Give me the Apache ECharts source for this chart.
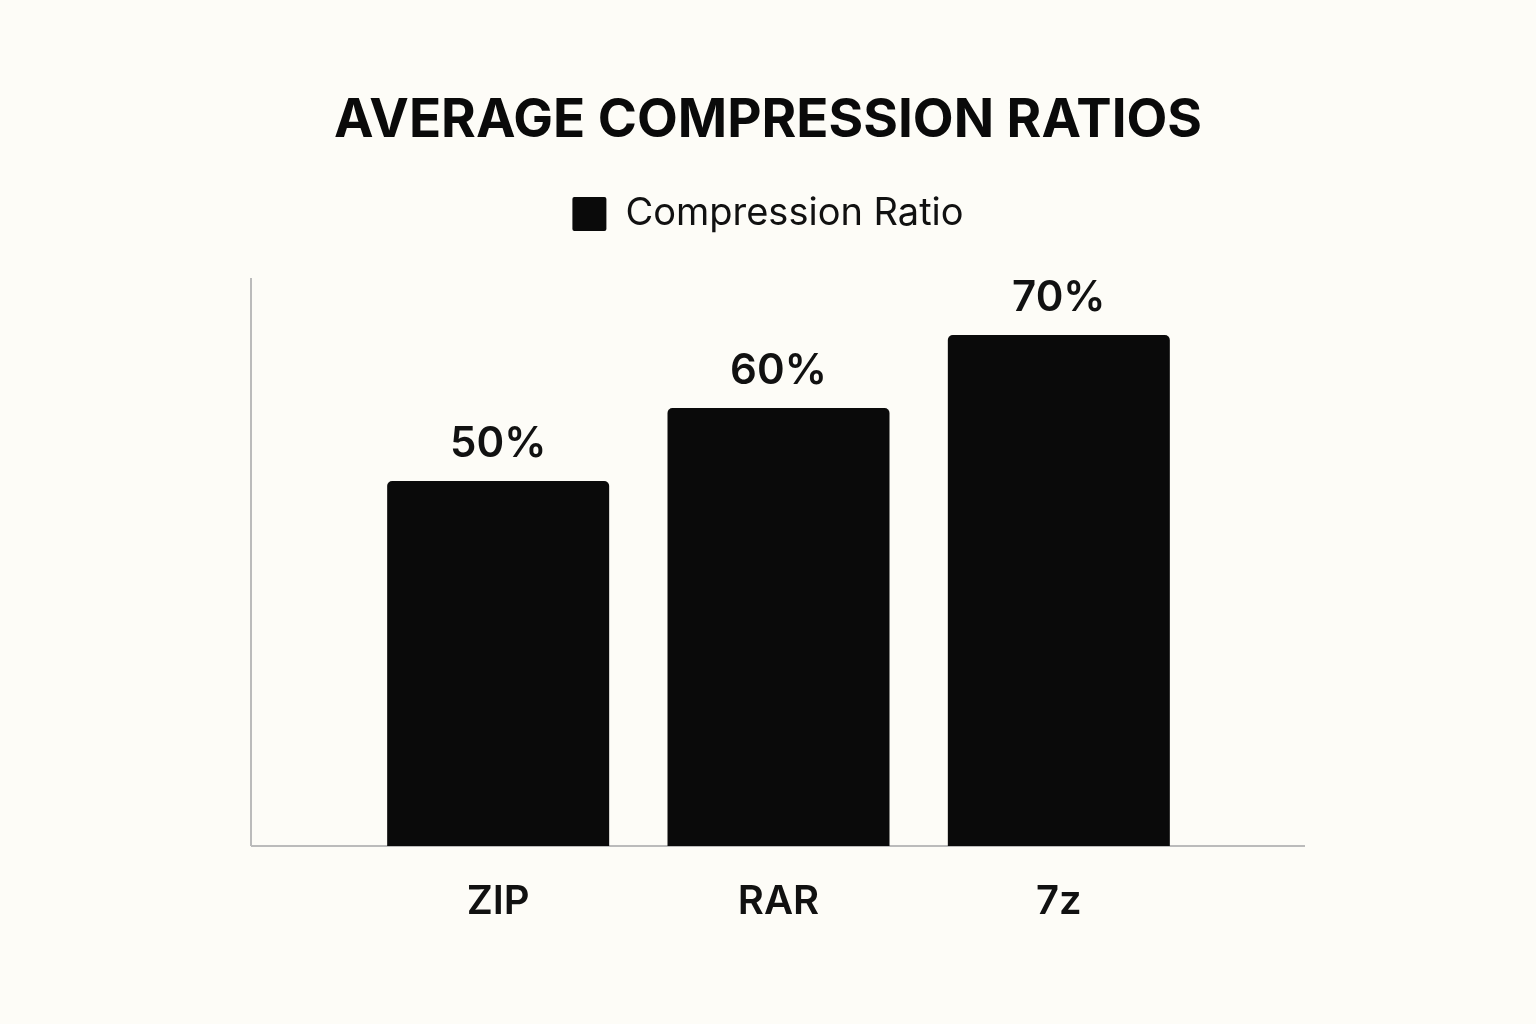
<!DOCTYPE html>
<html>
<head>
<meta charset="utf-8">
<script src="https://cdn.jsdelivr.net/npm/echarts@6/dist/echarts.min.js"></script>
<style>
  html, body { margin: 0; padding: 0; background: #fdfcf7; }
  #chart { width: 1536px; height: 1024px; }
</style>
</head>
<body>
<div id="chart"></div>
<script>
const categories = ['ZIP', 'RAR', '7z'];
const ratios = [50, 60, 70];
const seriesName = 'Compression Ratio';

const chart = echarts.init(document.getElementById('chart'));
chart.setOption({
  backgroundColor: '#fdfcf7',
  textStyle: { fontFamily: 'Inter, "Noto Sans", sans-serif' },
  title: {
    text: 'AVERAGE COMPRESSION RATIOS',
    left: 'center', top: 90,
    textStyle: { fontSize: 53, fontWeight: 'bold', color: '#0a0a0a' }
  },
  legend: {
    data: [seriesName],
    top: 190, left: 'center',
    itemWidth: 34, itemHeight: 34,
    icon: 'path://M2,0 H32 Q34,0 34,2 V32 Q34,34 32,34 H2 Q0,34 0,32 V2 Q0,0 2,0 Z',
    textStyle: { fontSize: 38, color: '#111', padding: [0, 0, 0, 14] }
  },
  grid: { left: 358, width: 841, top: 116, bottom: 1024 - 846 },
  xAxis: {
    type: 'category',
    data: categories,
    axisLine: { show: false },
    axisTick: { show: false },
    axisLabel: { margin: 36, fontSize: 40, fontWeight: 600, color: '#111' }
  },
  yAxis: {
    type: 'value', min: 0, max: 100,
    show: false, splitLine: { show: false }
  },
  series: [{
    name: seriesName,
    type: 'bar',
    data: ratios,
    barWidth: 222,
    itemStyle: { color: '#0a0a0a', borderRadius: [5, 5, 0, 0] },
    label: {
      show: true, position: 'top', distance: 16,
      formatter: '{c}%', fontSize: 42, fontWeight: 600, color: '#111'
    }
  }],
  graphic: [
    { type: 'line', shape: { x1: 251, y1: 278, x2: 251, y2: 846 },
      style: { stroke: '#bbbbbb', lineWidth: 2 } },
    { type: 'line', shape: { x1: 251, y1: 846, x2: 1305, y2: 846 },
      style: { stroke: '#bbbbbb', lineWidth: 2 } }
  ]
});
</script>
</body>
</html>
